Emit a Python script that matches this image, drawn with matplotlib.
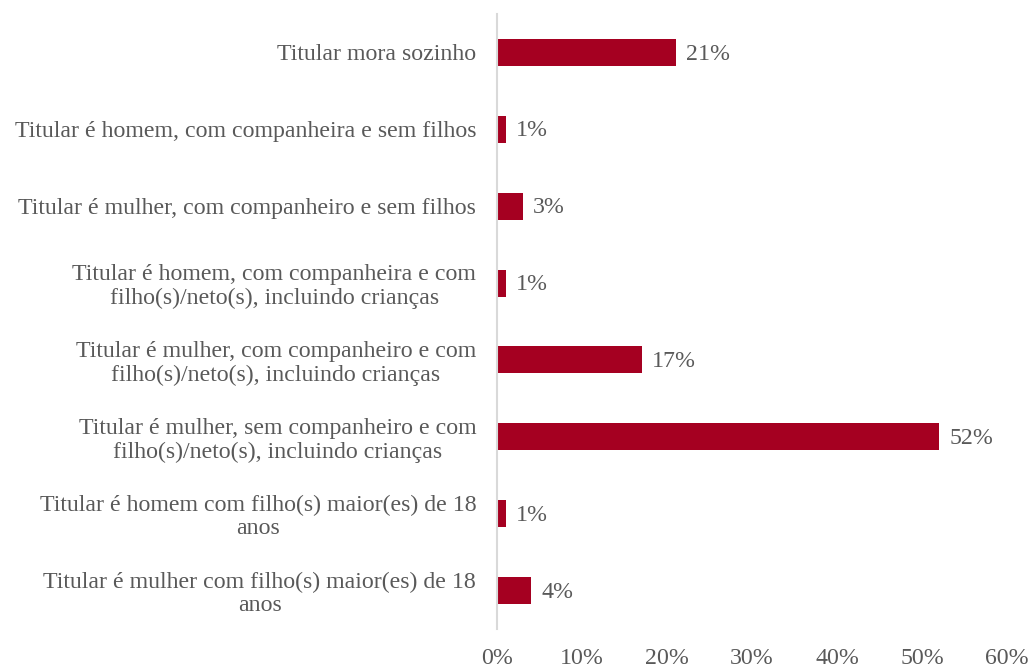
import matplotlib
matplotlib.use("Agg")
import matplotlib.pyplot as plt
from matplotlib.ticker import FuncFormatter

categories = [
    "Titular mora sozinho",
    "Titular é homem, com companheira e sem filhos",
    "Titular é mulher, com companheiro e sem filhos",
    "Titular é homem, com companheira e com\nfilho(s)/neto(s), incluindo crianças",
    "Titular é mulher, com companheiro e com\nfilho(s)/neto(s), incluindo crianças",
    "Titular é mulher, sem companheiro e com\nfilho(s)/neto(s), incluindo crianças",
    "Titular é homem com filho(s) maior(es) de 18\nanos",
    "Titular é mulher com filho(s) maior(es) de 18\nanos",
]
values = [21, 1, 3, 1, 17, 52, 1, 4]
xticks = [0, 10, 20, 30, 40, 50, 60]

bar_color = "#A50021"
text_color = "#595959"
font = ["Liberation Serif", "DejaVu Serif"]
fs = 17.2

fig = plt.figure(figsize=(10.31, 6.69), dpi=100)
ax = fig.add_axes([497 / 1031, 1 - 629 / 669, (1007 - 497) / 1031, (629 - 14) / 669])

ypos = list(range(len(categories)))
ax.barh(ypos, values, height=0.35, color=bar_color, zorder=2)
ax.set_ylim(len(categories) - 0.5, -0.5)
ax.set_xlim(0, 60)

for y, v in zip(ypos, values):
    ax.annotate(f"{v}%", xy=(v, y), xytext=(7.5, -1.2), textcoords="offset points",
                ha="left", va="center", fontsize=fs, color=text_color, family=font)

ax.set_yticks(ypos)
ax.set_yticklabels(categories, fontsize=fs, color=text_color, family=font,
                   multialignment="center", linespacing=1.13)
ax.set_xticks(xticks)
ax.xaxis.set_major_formatter(FuncFormatter(lambda x, _: f"{x:.0f}%"))
for lab in ax.get_xticklabels():
    lab.set_family(font)
    lab.set_fontsize(fs)
    lab.set_color(text_color)

ax.tick_params(axis="both", length=0)
ax.tick_params(axis="y", pad=15)
ax.tick_params(axis="x", pad=13.5)

for side in ("top", "right", "bottom"):
    ax.spines[side].set_visible(False)
ax.spines["left"].set_color("#D9D9D9")
ax.spines["left"].set_linewidth(1.5)

fig.savefig("out.png", dpi=100)
